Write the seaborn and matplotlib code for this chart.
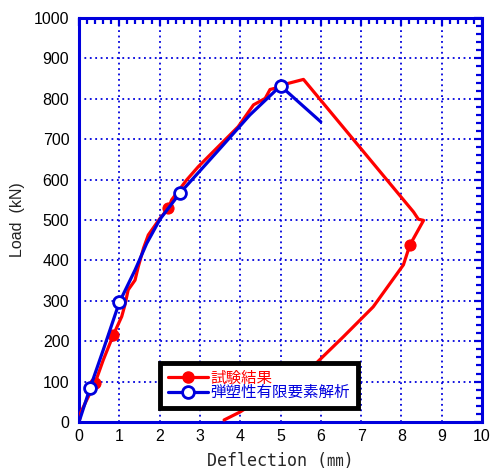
import matplotlib
matplotlib.use("Agg")
import matplotlib.pyplot as plt
import seaborn as sns
import numpy as np
from matplotlib.ticker import MultipleLocator
from matplotlib.lines import Line2D

# ---- data ----
exp_x = [0.0, 0.05, 0.15, 0.40, 0.60, 0.85, 1.06, 1.14, 1.22, 1.39, 1.47, 1.60, 1.72, 2.01,
         2.22, 2.30, 2.67, 2.96, 3.33, 3.95, 4.33, 4.62, 4.74, 4.86, 5.03, 5.57,
         8.30, 8.38, 8.42, 8.55, 8.21, 8.05, 7.30, 6.89, 6.56, 5.90, 4.00, 3.60]
exp_y = [0, 25, 46, 97, 153, 215, 261, 290, 327, 351, 384, 430, 463, 504,
         529, 550, 599, 632, 669, 731, 785, 801, 823, 826, 834, 848,
         520, 508, 502, 499, 438, 389, 285, 244, 211, 147, 25, 5]
exp_marks = [3, 5, 14, 30]

fem_x = [0.0, 0.27, 0.60, 1.00, 1.39, 1.68, 2.01, 2.50, 3.50, 4.24, 5.00, 6.00]
fem_y = [0, 83, 178, 296, 376, 442, 502, 566, 677, 760, 832, 743]
fem_marks = [1, 3, 7, 10]

labels = ["試験結果", "弾塑性有限要素解析"]
x_ticks = list(range(0, 11))
y_ticks = list(range(0, 1001, 100))

# ---- style ----
sns.set_style("white")
plt.rcParams['font.family'] = ['Liberation Sans', 'Noto Sans CJK JP']

BLUE = "#0000dd"
RED = "#ff0000"

fig = plt.figure(figsize=(4.9, 4.72), dpi=100)
ax = fig.add_axes([79/490, 50/472, 403/490, 404/472])

sns.lineplot(x=exp_x, y=exp_y, sort=False, estimator=None, ax=ax, color=RED,
             linewidth=2.3, marker='o', markevery=exp_marks, markersize=8,
             markerfacecolor=RED, markeredgecolor=RED, zorder=3)
sns.lineplot(x=fem_x, y=fem_y, sort=False, estimator=None, ax=ax, color=BLUE,
             linewidth=2.3, marker='o', markevery=fem_marks, markersize=8.5,
             markerfacecolor='white', markeredgecolor=BLUE, markeredgewidth=2,
             zorder=4)

ax.set_xlim(0, 10)
ax.set_ylim(0, 1000)
ax.set_xticks(x_ticks)
ax.set_yticks(y_ticks)
ax.xaxis.set_minor_locator(MultipleLocator(0.2))
ax.yaxis.set_minor_locator(MultipleLocator(20))

ax.grid(True, which='major', color=BLUE, linestyle=(0, (1, 2)), linewidth=1.3)
for s in ax.spines.values():
    s.set_color(BLUE)
    s.set_linewidth(2.2)
ax.tick_params(which='both', direction='in', top=True, right=True, color=BLUE,
               labelcolor='black')
ax.tick_params(which='major', length=6, width=1.6, labelsize=11.5)
ax.tick_params(which='minor', length=4.5, width=1.6)
ax.tick_params(axis='x', which='major', pad=5)
ax.tick_params(axis='y', which='major', pad=7)

ax.set_xlabel("Deflection (㎜)", family=['DejaVu Sans Mono', 'Noto Sans CJK JP'],
              fontsize=12, labelpad=6)
ax.set_ylabel("Load  (kN)", fontsize=11.5, color='#222222', labelpad=6)

handles = [
    Line2D([], [], color=RED, lw=2.3, marker='o', markersize=8,
           markerfacecolor=RED, markeredgecolor=RED),
    Line2D([], [], color=BLUE, lw=2.3, marker='o', markersize=8.5,
           markerfacecolor='white', markeredgecolor=BLUE, markeredgewidth=2),
]
leg = ax.legend(handles, labels, loc='lower left', bbox_to_anchor=(0.201, 0.035),
                borderaxespad=0, fancybox=False, framealpha=1, edgecolor='black',
                prop={'family': ['Liberation Sans', 'Noto Sans CJK JP'], 'size': 11.2},
                handlelength=2.6, handletextpad=0.15, labelspacing=-0.03,
                borderpad=0.5)
leg.get_frame().set_linewidth(3.5)
for t, c in zip(leg.get_texts(), [RED, BLUE]):
    t.set_color(c)
leg.set_zorder(10)

fig.savefig("out.png", dpi=100)
